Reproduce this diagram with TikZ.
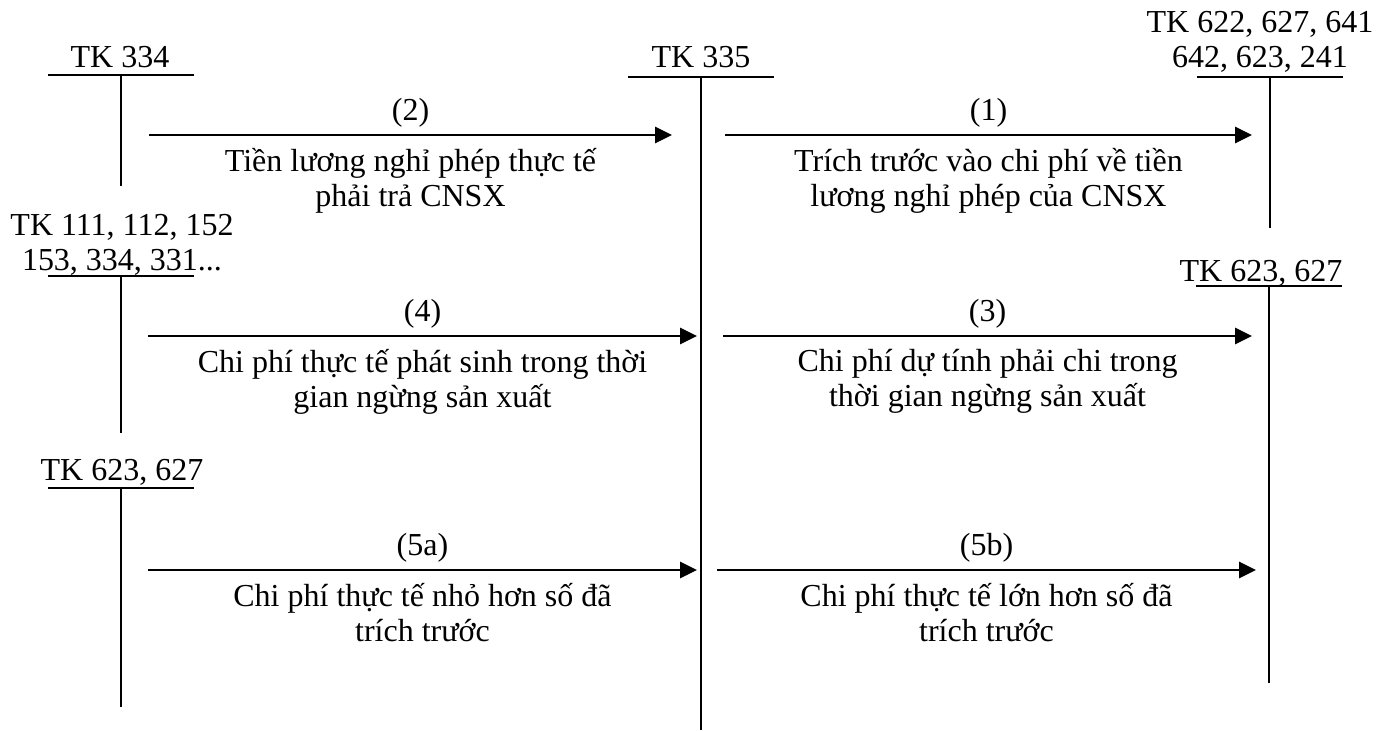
\documentclass[tikz,border=0pt]{standalone}
\usepackage{fontspec}
\setmainfont{Liberation Serif}
\usetikzlibrary{arrows.meta, positioning}

\begin{document}
\begin{tikzpicture}[x=0.5pt, y=-0.5pt,
        >={Triangle[length=8.5pt,width=8pt]},
        acct/.style={align=center,anchor=base,inner sep=0pt},
        tline/.style={line width=1pt},
        arr/.style={->,line width=1.4pt},
        lab/.style={above,inner sep=3pt},
        desc/.style={below,align=center,inner sep=3pt,yshift=-3pt},
        every node/.style={font=\fontsize{16}{17.5}\selectfont}]
      \useasboundingbox (0,0) rectangle (1377,730);
      \node[acct] (tk334) at (120,67) {TK 334};
      \node[acct] (tk111) at (122,270) {TK 111, 112, 152\\153, 334, 331...};
      \node[acct] (tk623a) at (122,480) {TK 623, 627};
      \node[acct] (tk335) at (701,67) {TK 335};
      \node[acct] (tk622) at (1260,67) {TK 622, 627, 641\\642, 623, 241};
      \node[acct] (tk623b) at (1261,281) {TK 623, 627};
      \foreach \x/\y/\b in {121/75/186, 121/276/433, 121/488/707,
          701/77/730, 1270/77/228, 1269/286/683}
        \draw[tline] (\x-73,\y) -- (\x+73,\y) (\x,\y) -- (\x,\b);
      \coordinate (a2s) at (149,135);  \coordinate (a2e) at (672,135);
      \coordinate (a1s) at (725,135);  \coordinate (a1e) at (1252,135);
      \coordinate (a4s) at (148,336);  \coordinate (a4e) at (697,336);
      \coordinate (a3s) at (723,336);  \coordinate (a3e) at (1252,336);
      \coordinate (a5as) at (148,570); \coordinate (a5ae) at (697,570);
      \coordinate (a5bs) at (717,570); \coordinate (a5be) at (1256,570);
      \draw[arr] (a2s) -- node[lab] {(2)}
        node[desc] {Tiền lương nghỉ phép thực tế\\phải trả CNSX} (a2e);
      \draw[arr] (a1s) -- node[lab] {(1)}
        node[desc] {Trích trước vào chi phí về tiền\\lương nghỉ phép của CNSX} (a1e);
      \draw[arr] (a4s) -- node[lab] {(4)}
        node[desc] {Chi phí thực tế phát sinh trong thời\\gian ngừng sản xuất} (a4e);
      \draw[arr] (a3s) -- node[lab] {(3)}
        node[desc] {Chi phí dự tính phải chi trong\\thời gian ngừng sản xuất} (a3e);
      \draw[arr] (a5as) -- node[lab] {(5a)}
        node[desc] {Chi phí thực tế nhỏ hơn số đã\\trích trước} (a5ae);
      \draw[arr] (a5bs) -- node[lab] {(5b)}
        node[desc] {Chi phí thực tế lớn hơn số đã\\trích trước} (a5be);
    \end{tikzpicture}
\end{document}
